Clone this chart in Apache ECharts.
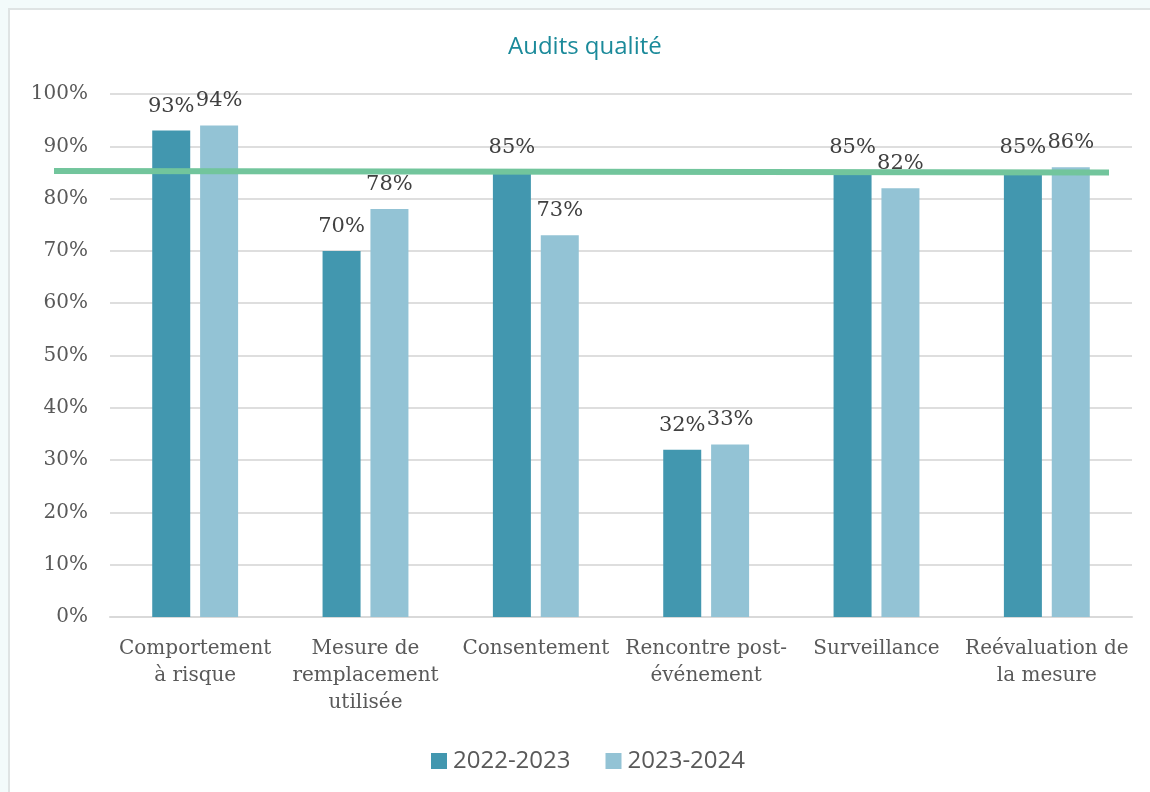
<!DOCTYPE html>
<html>
<head>
<meta charset="utf-8">
<script src="https://cdn.jsdelivr.net/npm/echarts@6/dist/echarts.min.js"></script>
<style>
  html, body { margin: 0; padding: 0; background: #f3fbfb; }
  #chart { width: 1150px; height: 792px; }
</style>
</head>
<body>
<div id="chart"></div>
<script>
// Audit categories (line breaks follow the axis label wrapping)
const categories = [
  'Comportement\nà risque',
  'Mesure de\nremplacement\nutilisée',
  'Consentement',
  'Rencontre post-\névénement',
  'Surveillance',
  'Reévaluation de\nla mesure'
];
const seriesNames = ['2022-2023', '2023-2024'];
const values2022 = [93, 70, 85, 32, 85, 85];
const values2023 = [94, 78, 73, 33, 82, 86];
// Target line drawn across the chart (start and end level, in %)
const targetLine = [[0, 85.3], [1, 85.0]];
const yTicks = [0, 10, 20, 30, 40, 50, 60, 70, 80, 90, 100];

const serif = '"DejaVu Serif", "Liberation Serif", serif';
const sans = '"Open Sans", "Noto Sans", sans-serif';

const chart = echarts.init(document.getElementById('chart'), null, { renderer: 'canvas' });

const gridTop = 94;
const gridBottom = 792 - 617;

const valueLabel = {
  show: true,
  position: 'top',
  distance: 14,
  fontFamily: serif,
  fontSize: 21,
  color: '#404040',
  formatter: p => p.value + '%'
};

chart.setOption({
  backgroundColor: '#f3fbfb',
  animation: false,
  graphic: [{
    type: 'rect',
    z: -10,
    silent: true,
    shape: { x: 9, y: 9, width: 1200, height: 850 },
    style: { fill: '#ffffff', stroke: '#dfe4e4', lineWidth: 2 }
  }],
  title: {
    text: 'Audits qualité',
    left: 503,
    top: 30,
    textStyle: { fontFamily: sans, fontSize: 24, fontWeight: 'normal', color: '#1b8a9a' }
  },
  legend: {
    data: seriesNames,
    left: 426,
    top: 744,
    itemWidth: 16,
    itemHeight: 16,
    itemGap: 35,
    icon: 'rect',
    textStyle: { fontFamily: sans, fontSize: 24, color: '#595959', padding: [0, 0, 0, 1] }
  },
  grid: [
    { left: 110, right: 18, top: gridTop, bottom: gridBottom },
    { left: 54, right: 41, top: gridTop, bottom: gridBottom }
  ],
  xAxis: [
    {
      type: 'category',
      gridIndex: 0,
      data: categories,
      axisLine: { lineStyle: { color: '#d9d9d9', width: 2 } },
      axisTick: { show: false },
      axisLabel: {
        interval: 0,
        margin: 18,
        fontFamily: serif,
        fontSize: 20,
        lineHeight: 27,
        color: '#595959'
      }
    },
    {
      type: 'value',
      gridIndex: 1,
      min: 0,
      max: 1,
      show: false
    }
  ],
  yAxis: [
    {
      type: 'value',
      gridIndex: 0,
      min: 0,
      max: 100,
      interval: 10,
      axisLine: { show: false },
      axisTick: { show: false },
      splitLine: { lineStyle: { color: '#dedede', width: 2 } },
      axisLabel: {
        margin: 22,
        fontFamily: serif,
        fontSize: 20,
        color: '#595959',
        formatter: v => (yTicks.includes(v) ? v + '%' : '')
      }
    },
    {
      type: 'value',
      gridIndex: 1,
      min: 0,
      max: 100,
      show: false
    }
  ],
  series: [
    {
      name: seriesNames[0],
      type: 'bar',
      xAxisIndex: 0,
      yAxisIndex: 0,
      data: values2022,
      barWidth: 38,
      barGap: '26%',
      itemStyle: { color: '#4297af' },
      label: valueLabel
    },
    {
      name: seriesNames[1],
      type: 'bar',
      xAxisIndex: 0,
      yAxisIndex: 0,
      data: values2023,
      barWidth: 38,
      itemStyle: { color: '#93c3d5' },
      label: valueLabel
    },
    {
      name: 'Cible',
      type: 'line',
      xAxisIndex: 1,
      yAxisIndex: 1,
      data: targetLine,
      symbol: 'none',
      z: 5,
      lineStyle: { color: '#72c59c', width: 6, cap: 'butt' }
    }
  ]
});
</script>
</body>
</html>
